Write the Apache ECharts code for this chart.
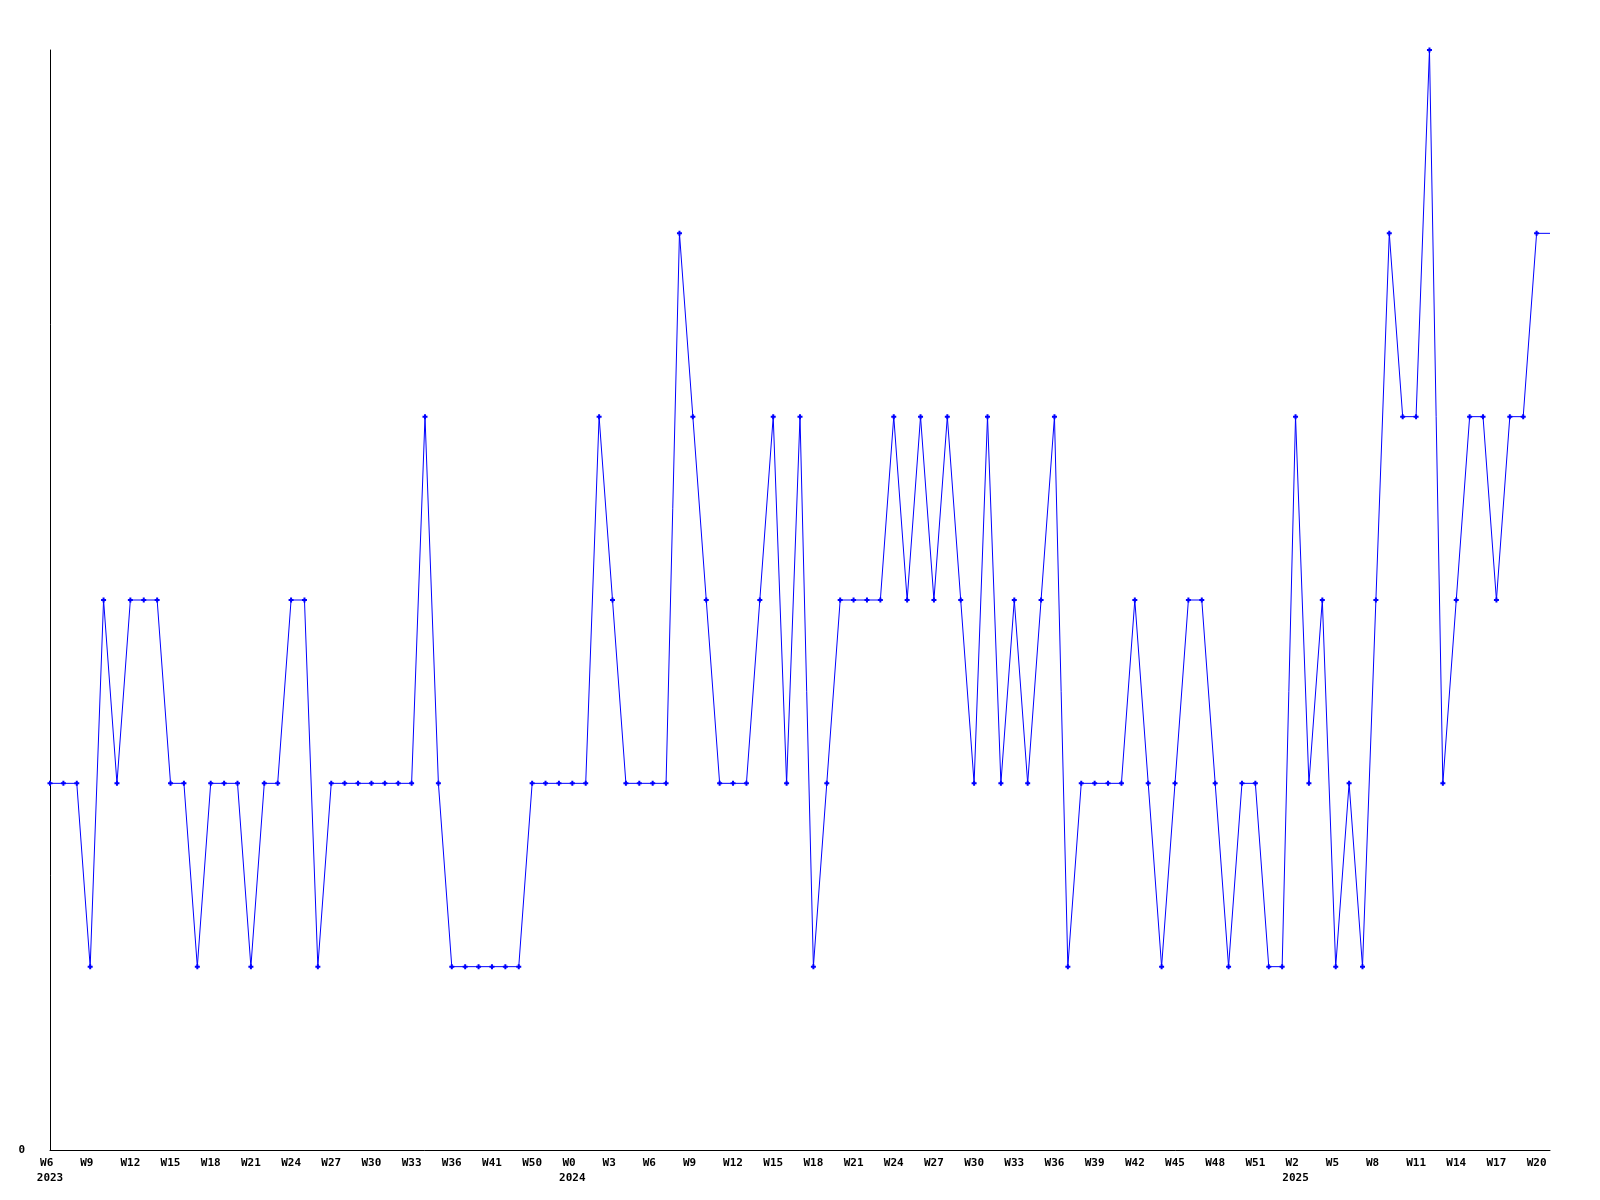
<!DOCTYPE html>
<html>
<head>
<meta charset="utf-8">
<script src="https://cdn.jsdelivr.net/npm/echarts@6/dist/echarts.min.js"></script>
<style>
html,body{margin:0;padding:0;background:#fff;}
#chart{width:1600px;height:1200px;}
</style>
</head>
<body>
<div id="chart"></div>
<script>
// Week categories (one per point)
const weeks2023 = ['W6','W7','W8','W9','W10','W11','W12','W13','W14','W15','W16','W17','W18','W19','W20','W21','W22','W23','W24','W25','W26','W27','W28','W29','W30','W31','W32','W33','W34','W35','W36','W38','W40','W41','W44','W47','W50','W51','W52'];
const weeks2024 = ['W0','W1','W2','W3','W4','W5','W6','W7','W8','W9','W10','W11','W12','W13','W14','W15','W16','W17','W18','W19','W20','W21','W22','W23','W24','W25','W26','W27','W28','W29','W30','W31','W32','W33','W34','W35','W36','W37','W38','W39','W40','W41','W42','W43','W44','W45','W46','W47','W48','W49','W50','W51','W52'];
const weeks2025 = ['W1','W2','W3','W4','W5','W6','W7','W8','W9','W10','W11','W12','W13','W14','W15','W16','W17','W18','W19','W20','W21'];

// Series values
const values = [
  2,2,2,1,3,2,3,3,3,2,
  2,1,2,2,2,1,2,2,3,3,
  1,2,2,2,2,2,2,2,4,2,
  1,1,1,1,1,1,2,2,2,2,
  2,4,3,2,2,2,2,5,4,3,
  2,2,2,3,4,2,4,1,2,3,
  3,3,3,4,3,4,3,4,3,2,
  4,2,3,2,3,4,1,2,2,2,
  2,3,2,1,2,3,3,2,1,2,
  2,1,1,4,2,3,1,2,1,3,
  5,4,4,6,2,3,4,4,3,4,
  4,5,5
];

const categories = []
  .concat(weeks2023.map(w => '2023|' + w))
  .concat(weeks2024.map(w => '2024|' + w))
  .concat(weeks2025.map(w => '2025|' + w));

const lastIdx = values.length - 1;
const seriesData = values.map((v, i) => i === lastIdx ? {value: v, symbol: 'none'} : v);

const FONT = 'DejaVu Sans Mono';
const chart = echarts.init(document.getElementById('chart'), null, {renderer: 'canvas'});
chart.setOption({
  animation: false,
  backgroundColor: '#ffffff',
  grid: {left: 50, right: 50, top: 50, bottom: 50, containLabel: false},
  xAxis: {
    type: 'category',
    data: categories,
    boundaryGap: false,
    axisLine: {show: true, lineStyle: {color: '#000', width: 1}},
    axisTick: {show: false},
    splitLine: {show: false},
    axisLabel: {
      interval: 2,
      margin: 6,
      color: '#000',
      fontFamily: FONT,
      fontWeight: 'bold',
      fontSize: 11,
      lineHeight: 15,
      align: 'center',
      formatter: function (value, index) {
        const parts = value.split('|');
        const year = parts[0];
        let wk = parts[1];
        if (wk.length < 3) wk = wk + ' ';
        let showYear = false;
        if (index === 0) showYear = true;
        else if (index >= 3) {
          const prevYear = categories[index - 3].split('|')[0];
          if (prevYear !== year) showYear = true;
        }
        return showYear ? wk + '\n' + year : wk;
      }
    }
  },
  yAxis: {
    type: 'value',
    min: 0,
    max: 6,
    interval: 6,
    axisLine: {show: true, lineStyle: {color: '#000', width: 1}},
    axisTick: {show: false},
    splitLine: {show: false},
    axisLabel: {
      margin: 25,
      color: '#000',
      fontFamily: FONT,
      fontWeight: 'bold',
      fontSize: 11,
      formatter: function (v) { return v === 0 ? '0' : ''; }
    }
  },
  series: [{
    type: 'line',
    data: seriesData,
    color: '#0000ff',
    lineStyle: {color: '#0000ff', width: 1},
    itemStyle: {color: '#0000ff'},
    symbol: 'path://M1.5,0H3.5V1.5H5V3.5H3.5V5H1.5V3.5H0V1.5H1.5Z',
    symbolSize: 5,
    showAllSymbol: true
  }]
});
</script>
</body>
</html>
